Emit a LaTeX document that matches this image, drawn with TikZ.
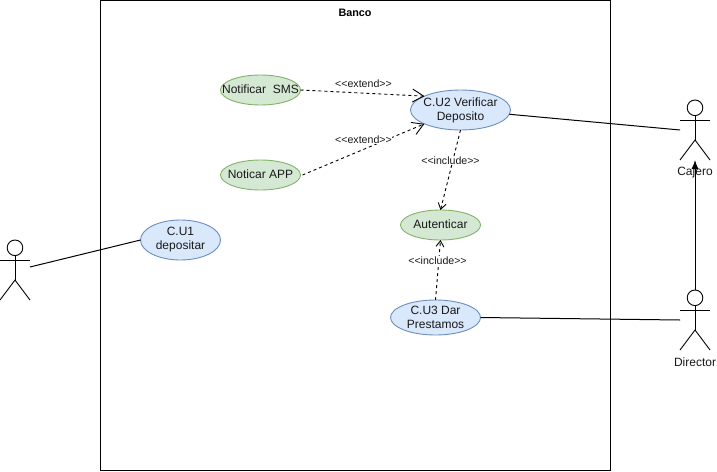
\documentclass[tikz,border=0pt]{standalone}
\usepackage{fontspec}
\setmainfont{Liberation Sans}
\usetikzlibrary{shapes.geometric,arrows.meta}
\tikzset{
  x=1pt,y=-1pt,
  usetext/.style={font=\fontsize{12}{14}\selectfont,align=center,inner sep=0pt,text=black!90},
  usecase/.style={ellipse,draw,line width=0.9pt,inner sep=0pt,outer sep=0pt,label={[usetext]center:#1}},
  greencase/.style={usecase=#1,fill=caseGreen,draw=caseGreenLine},
  bluecase/.style={usecase=#1,fill=caseBlue,draw=caseBlueLine},
  actorbox/.style={rectangle,minimum width=30pt,minimum height=60pt,inner sep=0pt,outer sep=0pt},
  assoc/.style={draw=black,line width=1pt},
  dep/.style={draw=black,line width=0.9pt,dash pattern=on 3pt off 3pt},
  bigbarb/.style={-{Straight Barb[length=11pt,width=13pt,line width=0.9pt]}},
  smallbarb/.style={-{Straight Barb[length=6pt,width=8pt,line width=0.9pt]}},
  deplabel/.style={font=\fontsize{10.6}{12}\selectfont,fill=white,inner sep=0.5pt,text=black!90},
  actorname/.style={font=\fontsize{12}{14}\selectfont,inner sep=0pt,text=black!90},
}
\definecolor{caseGreen}{HTML}{D5E8D4}
\definecolor{caseGreenLine}{HTML}{82B366}
\definecolor{caseBlue}{HTML}{DAE8FC}
\definecolor{caseBlueLine}{HTML}{6C8EBF}
\newcommand{\stickman}[1]{%
  \draw[line width=0.9pt] (#1.north) ++(0,7.8) circle[radius=7.8pt];
  \draw[line width=0.9pt] (#1.north) ++(0,15.6) -- ++(0,25);
  \draw[line width=0.9pt] (#1.west) ++(0,-10) -- ++(30,0);
  \draw[line width=0.9pt] (#1.south west) -- ++(15,-20) -- (#1.south east);
}
\begin{document}
\begin{tikzpicture}
\useasboundingbox (0,0) rectangle (717,471);
\fill[white] (0,0) rectangle (717,471);
\node[draw=black,line width=1pt,fill=white,rectangle,minimum width=510pt,minimum height=470pt,inner sep=0pt,outer sep=0pt] (banco) at (355.5,235.5) {};
\node[font=\bfseries\fontsize{10.8}{12}\selectfont,inner sep=0pt] (bancotitle) at (355,13) {Banco};

\node[greencase={\raisebox{1pt}{Notificar\ \ SMS}},minimum width=80pt,minimum height=30pt] (sms) at (260.5,90) {};
\node[greencase={\raisebox{2pt}{Noticar APP}},minimum width=80pt,minimum height=30pt] (app) at (260.5,175) {};
\node[bluecase={C.U2 Verificar\\Deposito},minimum width=100pt,minimum height=40pt] (u2) at (460.5,110) {};
\node[greencase={\raisebox{1pt}{Autenticar}},minimum width=80pt,minimum height=30pt] (aut) at (440.5,225) {};
\node[bluecase={C.U3 Dar\\Prestamos},minimum width=90pt,minimum height=35pt] (u3) at (435.5,317.5) {};
\node[bluecase={C.U1\\depositar},minimum width=80pt,minimum height=40pt] (u1) at (180.5,240) {};

\node[actorbox] (client) at (15,270) {};
\node[actorbox] (cajero) at (695,130) {};
\node[actorbox] (director) at (695,320) {};
\stickman{client}
\stickman{cajero}
\stickman{director}
\node[actorname] (cajeroname) at (695,172.5) {Cajero};
\node[actorname] (directorname) at (695,362.5) {Director};

\coordinate (clienthand) at (30,267);
\draw[assoc] (clienthand) -- (u1.west);
\draw[assoc] (u2.-5) -- (cajero.west);
\draw[assoc] (u3.east) -- (director.west);
\draw[assoc,-{Latex[length=9pt,width=7pt]}] (director.north) -- (cajero.south);

\draw[dep,bigbarb] (sms.east) -- (u2.159);
\draw[dep,bigbarb] ([xshift=2pt]app.east) -- (u2.201);
\draw[dep,smallbarb] (u2.south) -- (aut.north);
\draw[dep,smallbarb] (u3.north) -- (aut.south);

\node[deplabel] (l1) at (363.5,83.5) {<{}<extend>{}>};
\node[deplabel] (l2) at (363.5,139.5) {<{}<extend>{}>};
\node[deplabel] (l3) at (450.5,160.5) {<{}<include>{}>};
\node[deplabel] (l4) at (437.5,260.5) {<{}<include>{}>};
\end{tikzpicture}
\end{document}
